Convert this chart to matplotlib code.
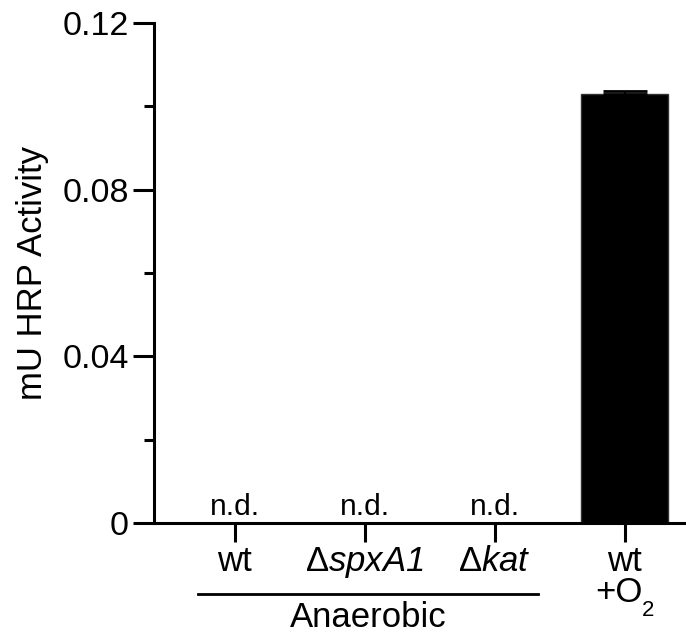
import matplotlib
matplotlib.use("Agg")
import matplotlib.pyplot as plt
import numpy as np

plt.rcParams['font.family'] = ['Liberation Sans', 'DejaVu Sans']
plt.rcParams['mathtext.fontset'] = 'custom'
plt.rcParams['mathtext.rm'] = 'Liberation Sans'
plt.rcParams['mathtext.it'] = 'Liberation Sans:italic'
plt.rcParams['mathtext.sf'] = 'Liberation Sans:italic'

# Data
categories = ['wt', 'Δ$\\mathsf{spxA1}$', 'Δ$\\mathsf{kat}$', 'wt']
condition_main = ['', '', '', '+O']
condition_sub = ['', '', '', '2']
values = [0.0, 0.0, 0.0, 0.103]
errors = [0.0, 0.0, 0.0, 0.0008]
annotations = ['n.d.', 'n.d.', 'n.d.', '']
yticks = [0, 0.04, 0.08, 0.12]
yticklabels = ['0', '0.04', '0.08', '0.12']
minor_yticks = [0.02, 0.06, 0.10]
group_label = 'Anaerobic'
group_members = [0, 1, 2]

fig = plt.figure(figsize=(6.86, 6.34), dpi=100)
ax = fig.add_axes([154/686, 111/634, 532/686, 500/634])

x = np.arange(len(categories))
ax.bar(x, values, width=0.67, color='black', edgecolor='#333333', linewidth=1)
err_idx = [i for i, e in enumerate(errors) if e > 0]
ax.errorbar(x[err_idx], [values[i] for i in err_idx],
            yerr=[[0]*len(err_idx), [errors[i] for i in err_idx]],
            fmt='none', ecolor='black', elinewidth=1.5, capsize=15.5, capthick=2)

for xi, lab, v in zip(x, annotations, values):
    if lab:
        ax.annotate(lab, (xi, v), xytext=(0, 5.8), textcoords='offset points',
                    ha='center', va='baseline', fontsize=21.5)

ax.set_xlim(-0.62, 3.47)
ax.set_ylim(0, 0.12)
ax.set_xticks(x)
ax.set_xticklabels(categories, fontsize=25)
ax.set_yticks(yticks)
ax.set_yticklabels(yticklabels, fontsize=24.5)
ax.set_yticks(minor_yticks, minor=True)
ax.text(-0.229, 0.5, 'mU HRP Activity', transform=ax.transAxes, rotation=90,
        ha='center', va='center', fontsize=25)

for s in ['top', 'right']:
    ax.spines[s].set_visible(False)
for s in ['left', 'bottom']:
    ax.spines[s].set_linewidth(2.2)

ax.tick_params(axis='y', which='major', length=15, width=2.2, pad=3)
ax.tick_params(axis='y', which='minor', length=7.5, width=2.2)
ax.tick_params(axis='x', which='major', length=14, width=2.2, pad=2)

tr = ax.get_xaxis_transform()
# condition line (e.g. +O2) below the tick label
for xi, main, sub in zip(x, condition_main, condition_sub):
    if main:
        ax.annotate(main, (xi, -0.158), xycoords=tr, xytext=(12.6, 0),
                    textcoords='offset points', ha='right', va='baseline', fontsize=25)
        ax.annotate(sub, (xi, -0.186), xycoords=tr, xytext=(12.6, 0),
                    textcoords='offset points', ha='left', va='baseline', fontsize=16)

# group line
x0 = group_members[0] - 0.28
x1 = group_members[-1] + 0.33
ax.plot([x0, x1], [-0.1423, -0.1423], transform=tr, color='black', lw=2, clip_on=False)
ax.text((x0 + x1) / 2, -0.2075, group_label, transform=tr, ha='center', va='baseline', fontsize=25)

fig.savefig('out.png', dpi=100)
